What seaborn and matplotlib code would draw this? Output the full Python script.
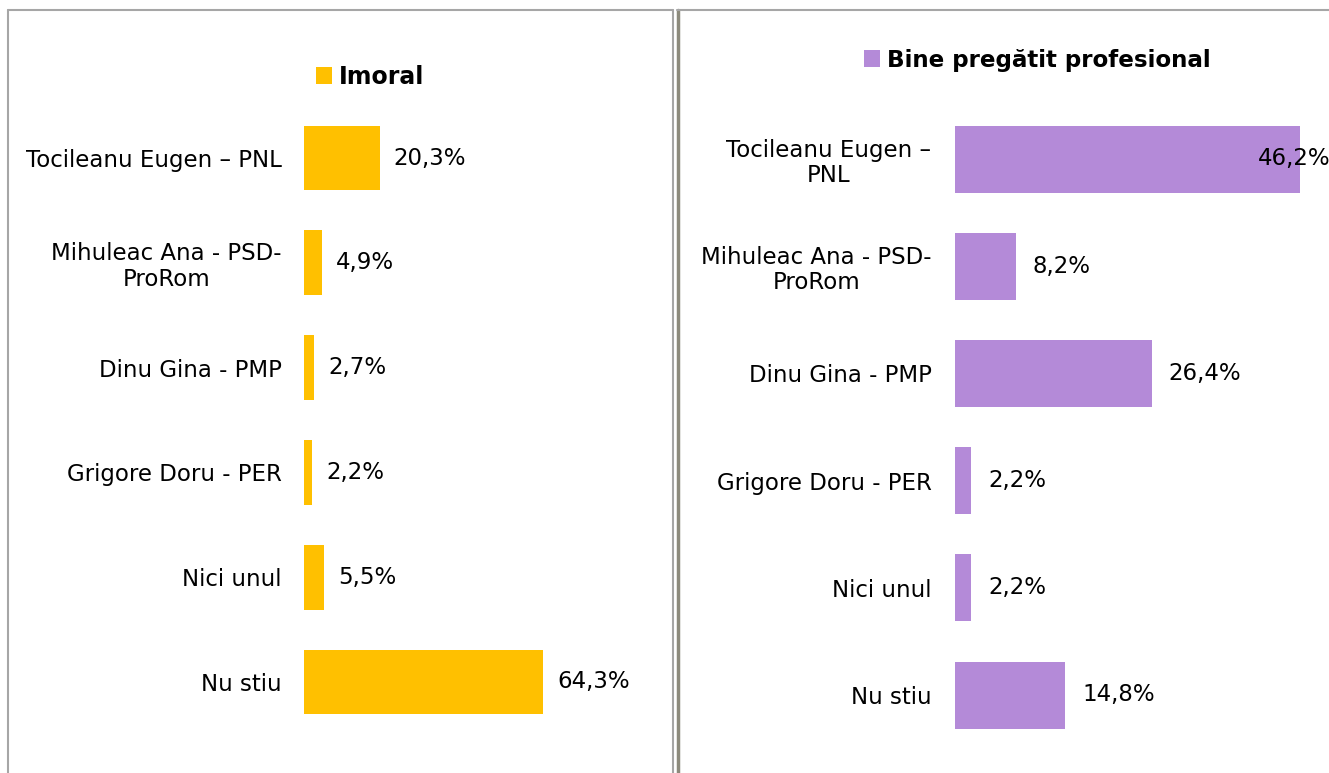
import matplotlib
matplotlib.use("Agg")
import matplotlib.pyplot as plt
import seaborn as sns
import pandas as pd
from matplotlib.patches import Patch
from matplotlib.lines import Line2D

sns.set_style("white")
plt.rcParams['font.family'] = ['DejaVu Sans']
plt.rcParams['text.color'] = 'black'
plt.rcParams['ytick.color'] = 'black'
plt.rcParams['ytick.labelcolor'] = 'black'

# ---- data ----
left_title = "Imoral"
left_labels = ["Tocileanu Eugen – PNL", "Mihuleac Ana - PSD-\nProRom", "Dinu Gina - PMP",
               "Grigore Doru - PER", "Nici unul", "Nu stiu"]
left_values = [20.3, 4.9, 2.7, 2.2, 5.5, 64.3]

right_title = "Bine pregătit profesional"
right_labels = ["Tocileanu Eugen –\nPNL", "Mihuleac Ana - PSD-\nProRom", "Dinu Gina - PMP",
                "Grigore Doru - PER", "Nici unul", "Nu stiu"]
right_values = [46.2, 8.2, 26.4, 2.2, 2.2, 14.8]

left_color = "#FFC000"
right_color = "#B48AD8"

W, H = 1329, 773
FS = 16.5
fig = plt.figure(figsize=(W / 100, H / 100), dpi=100)

def fmt(v):
    return f"{v:.1f}%".replace(".", ",")

def draw(ax, labels, values, color, xmax, barw, pad_pts, label_pad):
    df = pd.DataFrame({"cat": labels, "val": values})
    sns.barplot(data=df, x="val", y="cat", orient="h", color=color, width=barw,
                saturation=1, ax=ax, order=labels, linewidth=0)
    ax.set_xlim(0, xmax)
    ax.set_ylim(len(labels) - 0.5, -0.5)
    for s in ax.spines.values():
        s.set_visible(False)
    ax.set_xticks([])
    ax.set_xlabel("")
    ax.set_ylabel("")
    ax.tick_params(axis="y", length=0, pad=pad_pts, labelsize=FS, labelcolor="black")
    for t in ax.get_yticklabels():
        t.set_multialignment("center")
        t.set_linespacing(1.15)
    ax.patch.set_alpha(0)
    cont = ax.containers[0]
    for rect, v in zip(cont, values):
        y = rect.get_y() + rect.get_height() / 2
        x = rect.get_width()
        if x + 0.2 * xmax > xmax:
            ax.annotate(fmt(v), (x, y), xytext=(-30, 0), textcoords="offset points",
                        ha="left", va="center", fontsize=FS, color="black",
                        annotation_clip=False, clip_on=False)
        else:
            ax.annotate(fmt(v), (x, y), xytext=(label_pad, 0), textcoords="offset points",
                        ha="left", va="center", fontsize=FS, color="black")
    return cont

axL = fig.add_axes([304 / W, (H - 734.4) / H, 369 / W, 628.8 / H])
contL = draw(axL, left_labels, left_values, left_color, 99.2, 0.62, 16, 10)

axR = fig.add_axes([955 / W, (H - 748.6) / H, 374 / W, 643.2 / H])
contR = draw(axR, right_labels, right_values, right_color, 50.1, 0.625, 17, 12)

# legend-style titles
for ax, col, title, cx, cy, fs in [(axL, left_color, left_title, 370 / W, 1 - 77 / H, 17),
                                   (axR, right_color, right_title, 1037 / W, 1 - 60 / H, 16.6)]:
    leg = fig.legend(handles=[Patch(facecolor=col, edgecolor="none")], labels=[title],
                     loc="center", bbox_to_anchor=(cx, cy), frameon=False,
                     prop={"weight": "bold", "size": fs}, handlelength=0.7, handleheight=0.7,
                     handletextpad=0.3, borderpad=0)
    for t in leg.get_texts():
        t.set_color("black")

# panel frames
gray = "#A6A6A6"
fig.add_artist(Line2D([8 / W, 8 / W], [0, 1 - 10 / H], color=gray, lw=1.5))
fig.add_artist(Line2D([8 / W, 673 / W], [1 - 10 / H, 1 - 10 / H], color=gray, lw=1.5))
fig.add_artist(Line2D([673 / W, 673 / W], [0, 1 - 10 / H], color=gray, lw=1.5))
fig.add_artist(Line2D([677.5 / W, 677.5 / W], [0, 1 - 10 / H], color="#8C8A7C", lw=2.5))
fig.add_artist(Line2D([677 / W, 1], [1 - 10 / H, 1 - 10 / H], color=gray, lw=1.5))

fig.savefig("out.png", dpi=100, facecolor="white")
